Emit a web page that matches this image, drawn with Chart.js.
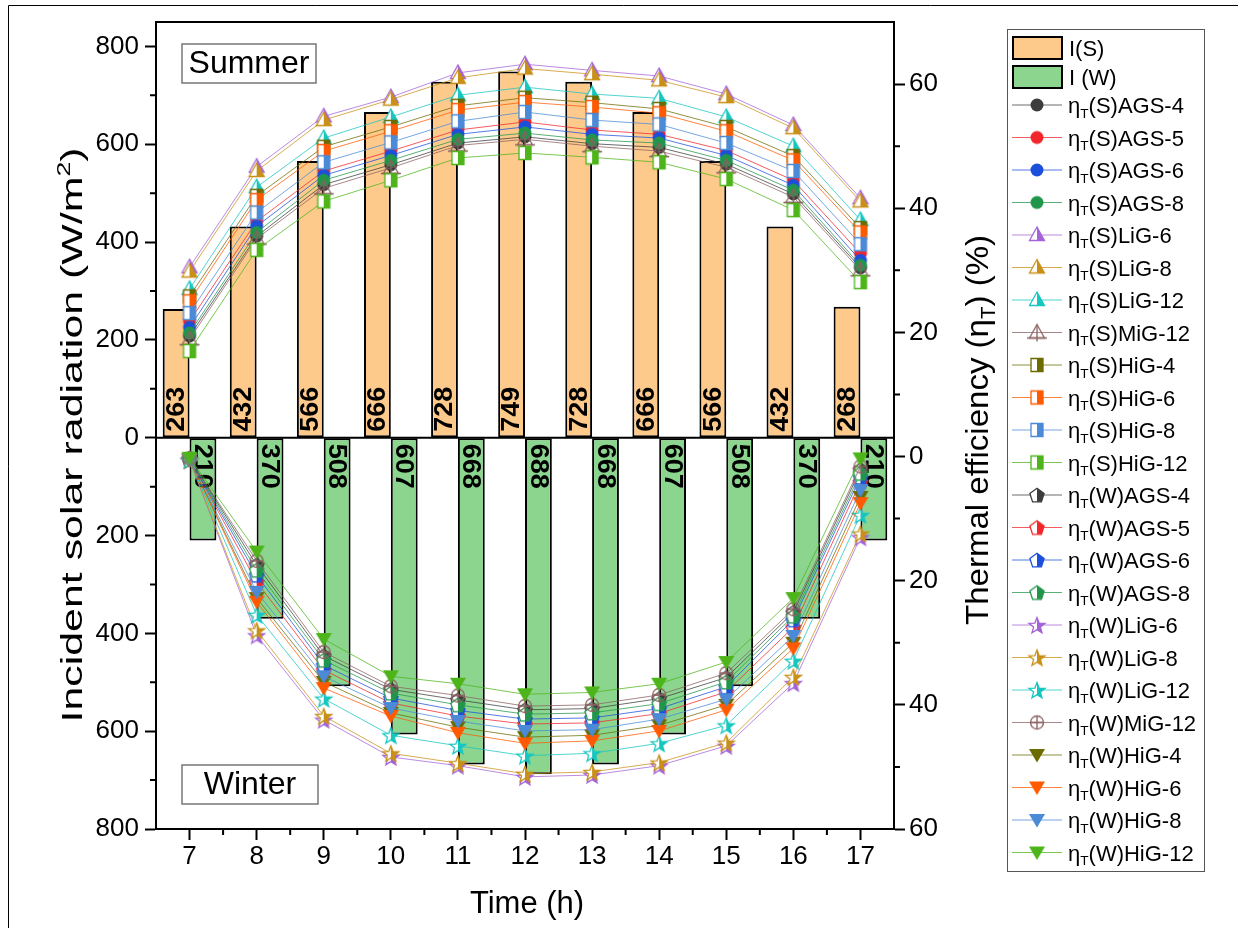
<!DOCTYPE html>
<html>
<head>
<meta charset="utf-8">
<script src="https://cdn.jsdelivr.net/npm/chart.js@4.4.1/dist/chart.umd.min.js"></script>
<style>
  html, body { margin: 0; padding: 0; background: #fff; }
  canvas { display: block; }
</style>
</head>
<body>
<canvas id="myChart" width="1238" height="928"></canvas>
<script>
// ---- data ----
const hours = ['7', '8', '9', '10', '11', '12', '13', '14', '15', '16', '17'];
const irrSummer = [263, 432, 566, 666, 728, 749, 728, 666, 566, 432, 268];
const irrWinter = [210, 370, 508, 607, 668, 688, 668, 607, 508, 370, 210];

const glazing = ['AGS-4', 'AGS-5', 'AGS-6', 'AGS-8', 'LiG-6', 'LiG-8', 'LiG-12', 'MiG-12', 'HiG-4', 'HiG-6', 'HiG-8', 'HiG-12'];

// thermal efficiency (%), summer, same order as glazing
const effSummer = [
  [19.4, 35.5, 43.8, 47.0, 50.5, 51.5, 50.4, 49.8, 47.1, 42.3, 30.4],
  [21.8, 37.9, 46.0, 49.2, 52.6, 53.9, 52.6, 51.9, 49.3, 44.5, 32.7],
  [20.8, 37.1, 45.3, 48.5, 51.9, 53.1, 51.9, 51.3, 48.5, 43.7, 31.6],
  [19.9, 36.1, 44.5, 47.7, 51.1, 52.1, 51.0, 50.5, 47.7, 42.9, 30.8],
  [30.5, 46.7, 54.8, 57.9, 61.8, 63.2, 62.2, 61.3, 58.4, 53.4, 41.6],
  [29.8, 46.0, 54.2, 57.5, 61.0, 62.5, 61.6, 60.6, 57.9, 52.9, 41.1],
  [27.0, 43.4, 51.3, 54.7, 58.2, 59.5, 58.4, 57.7, 54.7, 50.0, 38.1],
  [18.9, 35.1, 43.2, 46.5, 50.1, 51.1, 50.0, 49.2, 46.6, 41.8, 30.0],
  [25.8, 42.0, 49.9, 53.1, 56.5, 57.8, 57.0, 56.0, 53.1, 48.4, 36.8],
  [25.0, 41.3, 49.2, 52.4, 55.8, 57.1, 56.3, 55.3, 52.4, 47.7, 36.1],
  [23.1, 39.3, 47.4, 50.6, 54.0, 55.5, 54.2, 53.5, 50.5, 46.0, 34.2],
  [17.0, 33.3, 41.1, 44.5, 48.1, 48.9, 48.2, 47.4, 44.7, 39.7, 28.1]
];

// thermal efficiency (%), winter (plotted downwards)
const effWinter = [
  [0.3, 17.5, 32.1, 37.5, 39.2, 40.8, 40.6, 39.0, 35.6, 25.1, 2.1],
  [0.4, 20.2, 34.4, 39.7, 41.8, 43.1, 42.9, 41.4, 37.9, 27.5, 4.1],
  [0.4, 19.1, 33.6, 38.9, 40.9, 42.3, 42.1, 40.6, 37.1, 26.3, 3.3],
  [0.35, 18.3, 32.8, 38.1, 40.0, 41.5, 41.3, 39.8, 36.3, 25.7, 2.7],
  [0.6, 28.8, 42.4, 48.4, 49.8, 51.6, 51.3, 49.8, 46.6, 36.5, 13.0],
  [0.6, 28.0, 41.8, 47.8, 49.4, 51.1, 50.8, 49.3, 46.1, 35.5, 12.4],
  [0.55, 25.5, 39.0, 44.9, 46.6, 48.2, 47.8, 46.2, 43.3, 32.9, 9.4],
  [0.3, 16.8, 31.5, 37.0, 38.5, 40.2, 40.0, 38.4, 34.9, 24.6, 1.6],
  [0.5, 22.8, 36.3, 41.3, 43.6, 45.2, 44.9, 43.3, 40.0, 30.0, 6.5],
  [0.5, 23.4, 37.3, 41.8, 44.5, 46.2, 45.8, 44.2, 40.8, 30.9, 7.5],
  [0.45, 21.8, 35.4, 40.5, 42.6, 44.2, 44.0, 42.3, 39.1, 28.9, 5.4],
  [0.2, 15.3, 29.4, 35.4, 36.6, 38.3, 38.0, 36.6, 33.1, 22.8, 0.3]
];

// ---- styles ----
const FAM = "'Liberation Sans', Arial, sans-serif";
const colors = ['#3c3c3c', '#f0262b', '#1c4fdc', '#21964b', '#a463d6', '#c99016', '#16c6c0', '#8b6060', '#6b6b00', '#ff5a00', '#4a8ad6', '#4db51a'];
const marksS = ['circle', 'circle', 'circle', 'circle', 'triHalf', 'triHalf', 'triHalf', 'triCross', 'sqHalf', 'sqHalf', 'sqHalf', 'sqHalf'];
const marksW = ['pentHalf', 'pentHalf', 'pentHalf', 'pentHalf', 'starHalf', 'starHalf', 'starHalf', 'circCross', 'triDown', 'triDown', 'triDown', 'triDown'];

Chart.defaults.font.family = FAM;
Chart.defaults.color = '#000';

function shapePath(g, kind) {
  g.beginPath();
  if (kind === 'circle' || kind === 'circCross') {
    g.arc(0, 0, 6.5, 0, Math.PI * 2);
  } else if (kind === 'triHalf' || kind === 'triCross') {
    g.moveTo(0, -8); g.lineTo(7.5, 5.5); g.lineTo(-7.5, 5.5); g.closePath();
  } else if (kind === 'sqHalf') {
    g.rect(-6, -6.5, 12, 13);
  } else if (kind === 'pentHalf') {
    for (let k = 0; k < 5; k++) {
      const a = -Math.PI / 2 + k * 2 * Math.PI / 5;
      const px = 7.5 * Math.cos(a), py = 7.5 * Math.sin(a) + 0.8;
      k ? g.lineTo(px, py) : g.moveTo(px, py);
    }
    g.closePath();
  } else if (kind === 'starHalf') {
    for (let k = 0; k < 10; k++) {
      const r = k % 2 ? 3.6 : 8.5;
      const a = -Math.PI / 2 + k * Math.PI / 5;
      const px = r * Math.cos(a), py = r * Math.sin(a) + 1;
      k ? g.lineTo(px, py) : g.moveTo(px, py);
    }
    g.closePath();
  } else if (kind === 'triDown') {
    g.moveTo(-8, -6); g.lineTo(8, -6); g.lineTo(0, 7.5); g.closePath();
  }
}

function makeMarker(kind, color) {
  const c = document.createElement('canvas');
  c.width = 22; c.height = 22;
  const g = c.getContext('2d');
  g.translate(11, 11);
  g.lineWidth = 1.3;
  g.strokeStyle = color;
  g.fillStyle = color;
  shapePath(g, kind);
  if (kind === 'circle' || kind === 'triDown') {
    g.fill();
  } else if (kind.endsWith('Half')) {
    g.fillStyle = '#fff';
    g.fill();
    g.save();
    g.beginPath(); g.rect(0, -11, 11, 22); g.clip();
    shapePath(g, kind); g.fillStyle = color; g.fill();
    g.restore();
    shapePath(g, kind); g.stroke();
  } else if (kind === 'triCross') {
    g.stroke();
    g.beginPath(); g.moveTo(0, -8); g.lineTo(0, 9); g.moveTo(-10, 5.5); g.lineTo(10, 5.5); g.stroke();
  } else if (kind === 'circCross') {
    g.stroke();
    g.beginPath(); g.moveTo(0, -6.5); g.lineTo(0, 6.5); g.moveTo(-6.5, 0); g.lineTo(6.5, 0); g.stroke();
  }
  return c;
}

function fade(hex, a) {
  const n = parseInt(hex.slice(1), 16);
  return `rgba(${n >> 16},${(n >> 8) & 255},${n & 255},${a})`;
}

// ---- datasets ----
const datasets = [
  { type: 'bar', label: 'I(S)', data: irrSummer, yAxisID: 'y', backgroundColor: '#fdca8c', borderColor: '#000', borderWidth: 2, borderSkipped: false, categoryPercentage: 0.8, barPercentage: 1, order: 100 },
  { type: 'bar', label: 'I (W)', data: irrWinter.map(v => -v), yAxisID: 'y', backgroundColor: '#8bd58f', borderColor: '#000', borderWidth: 2, borderSkipped: false, categoryPercentage: 0.8, barPercentage: 1, order: 100 }
];
const legendItems = [];
glazing.forEach((g, i) => {
  const mk = makeMarker(marksS[i], colors[i]);
  legendItems.push({ text: '(S)' + g, color: colors[i], marker: mk });
  datasets.push({ type: 'line', label: 'ηT(S)' + g, data: effSummer[i], yAxisID: 'y2', borderColor: fade(colors[i], 0.75), borderWidth: 1, tension: 0, pointStyle: mk, pointRadius: 7, order: -i });
});
glazing.forEach((g, i) => {
  const mk = makeMarker(marksW[i], colors[i]);
  legendItems.push({ text: '(W)' + g, color: colors[i], marker: mk });
  datasets.push({ type: 'line', label: 'ηT(W)' + g, data: effWinter[i].map(v => -v), yAxisID: 'y2', borderColor: fade(colors[i], 0.75), borderWidth: 1, tension: 0, pointStyle: mk, pointRadius: 7, order: -(12 + i) });
});

// ---- text helpers ----
function partsWidth(c, parts, size) {
  let w = 0;
  parts.forEach(p => {
    c.font = `${p.sub || p.sup ? size * 0.62 : size}px ${FAM}`;
    w += c.measureText(p.t).width;
  });
  return w;
}
function drawParts(c, parts, size, x0, y0) {
  let x = x0;
  parts.forEach(p => {
    c.font = `${p.sub || p.sup ? size * 0.62 : size}px ${FAM}`;
    const dy = p.sub ? size * 0.22 : p.sup ? -size * 0.38 : 0;
    c.fillText(p.t, x, y0 + dy);
    x += c.measureText(p.t).width;
  });
}
function drawTitle(c, parts, size, cx, cy, rot, len) {
  c.save();
  c.translate(cx, cy);
  c.rotate(rot);
  c.textAlign = 'left';
  c.textBaseline = 'alphabetic';
  const w = partsWidth(c, parts, size);
  if (len) c.scale(len / w, 1);
  drawParts(c, parts, size, -w / 2, size * 0.35);
  c.restore();
}

// ---- plugins ----
const barLabels = {
  id: 'barLabels',
  afterDatasetDraw(chart, args) {
    if (args.index !== 0) return;
    const { ctx, chartArea: a, scales: { y } } = chart;
    const zero = y.getPixelForValue(0);
    ctx.save();
    ctx.strokeStyle = '#000';
    ctx.lineWidth = 2;
    ctx.beginPath(); ctx.moveTo(a.left, zero); ctx.lineTo(a.right, zero); ctx.stroke();
    ctx.fillStyle = '#000';
    ctx.font = `bold 25px ${FAM}`;
    ctx.textAlign = 'left';
    ctx.textBaseline = 'middle';
    chart.getDatasetMeta(0).data.forEach((el, i) => {
      ctx.save(); ctx.translate(el.x + 1, zero - 6); ctx.rotate(-Math.PI / 2);
      ctx.scale(1.08, 1);
      ctx.fillText(irrSummer[i], 0, 0); ctx.restore();
    });
    chart.getDatasetMeta(1).data.forEach((el, i) => {
      ctx.save(); ctx.translate(el.x - 1, zero + 6); ctx.rotate(Math.PI / 2);
      ctx.scale(1.08, 1);
      ctx.fillText(irrWinter[i], 0, 0); ctx.restore();
    });
    ctx.restore();
  }
};

const decorations = {
  id: 'decorations',
  afterDraw(chart) {
    const { ctx, chartArea: a, scales: { x, y, y2 } } = chart;
    ctx.save();
    ctx.strokeStyle = '#000';
    ctx.lineWidth = 2;
    ctx.beginPath();
    // top frame
    ctx.moveTo(a.left - 1, a.top); ctx.lineTo(a.right + 1, a.top);
    // minor ticks
    for (let v = -700; v <= 700; v += 200) {
      const p = y.getPixelForValue(v);
      ctx.moveTo(a.left - 6, p); ctx.lineTo(a.left, p);
    }
    for (let v = -50; v <= 50; v += 20) {
      const p = y2.getPixelForValue(v);
      ctx.moveTo(a.right, p); ctx.lineTo(a.right + 6, p);
    }
    for (let i = 0; i < hours.length - 1; i++) {
      const p = (x.getPixelForValue(i) + x.getPixelForValue(i + 1)) / 2;
      ctx.moveTo(p, a.bottom); ctx.lineTo(p, a.bottom + 6);
    }
    ctx.stroke();

    // outer figure frame
    ctx.lineWidth = 1;
    ctx.beginPath();
    ctx.moveTo(8.5, 928); ctx.lineTo(8.5, 5.5); ctx.lineTo(1238, 5.5);
    ctx.stroke();

    // season boxes
    ctx.strokeStyle = '#777';
    ctx.lineWidth = 1.5;
    ctx.strokeRect(182, 44, 134, 39);
    ctx.strokeRect(182, 765, 136, 39);
    ctx.fillStyle = '#000';
    ctx.font = `32px ${FAM}`;
    ctx.textAlign = 'center';
    ctx.textBaseline = 'middle';
    ctx.fillText('Summer', 249, 64);
    ctx.fillText('Winter', 250, 785);

    // axis titles
    drawTitle(ctx, [{ t: 'Incident solar radiation (W/m' }, { t: '2', sup: true }, { t: ')' }], 30, 71, 435, -Math.PI / 2, 575);
    drawTitle(ctx, [{ t: 'Thermal efficiency (η' }, { t: 'T', sub: true }, { t: ') (%)' }], 32, 977, 430, -Math.PI / 2, 390);
    drawTitle(ctx, [{ t: 'Time (h)' }], 31, 527, 902, 0, null);

    // legend
    ctx.strokeStyle = '#555';
    ctx.lineWidth = 1;
    ctx.strokeRect(1007.5, 29.5, 197, 842);
    ctx.textAlign = 'left';
    ctx.textBaseline = 'alphabetic';
    const bars = [['I(S)', '#fdca8c', 48], ['I (W)', '#8bd58f', 77]];
    bars.forEach(([t, col, cy]) => {
      ctx.fillStyle = col;
      ctx.fillRect(1013, cy - 11, 49, 22);
      ctx.strokeStyle = '#000';
      ctx.lineWidth = 2;
      ctx.strokeRect(1013, cy - 11, 49, 22);
      ctx.fillStyle = '#000';
      drawParts(ctx, [{ t: t }], 22, 1069, cy + 8);
    });
    legendItems.forEach((it, i) => {
      const cy = 105 + 32.5 * i;
      ctx.strokeStyle = fade(it.color, 0.75);
      ctx.lineWidth = 1;
      ctx.beginPath(); ctx.moveTo(1012, cy); ctx.lineTo(1062, cy); ctx.stroke();
      ctx.drawImage(it.marker, 1037 - 11, cy - 11);
      ctx.fillStyle = '#000';
      drawParts(ctx, [{ t: 'η' }, { t: 'T', sub: true }, { t: it.text }], 22, 1068, cy + 8);
    });
    ctx.restore();
  }
};

// ---- config ----
const tickFont = { size: 26, family: FAM };
const config = {
  type: 'bar',
  data: { labels: hours, datasets },
  options: {
    responsive: false,
    animation: false,
    events: [],
    devicePixelRatio: 1,
    layout: { padding: { top: 22, left: 0, right: 0, bottom: 0 } },
    plugins: { legend: { display: false }, tooltip: { enabled: false } },
    scales: {
      x: {
        offset: true,
        grid: { offset: false, drawOnChartArea: false, drawTicks: true, tickLength: 11, tickWidth: 2, tickColor: '#000' },
        border: { display: true, color: '#000', width: 2 },
        ticks: { font: tickFont, color: '#000', padding: 1, maxRotation: 0, autoSkip: false },
        afterFit: s => { s.height = 99; }
      },
      y: {
        position: 'left',
        min: -800,
        max: 850,
        afterBuildTicks: s => {
          const t = [];
          for (let v = -800; v <= 800; v += 200) t.push({ value: v });
          s.ticks = t;
        },
        grid: { drawOnChartArea: false, drawTicks: true, tickLength: 11, tickWidth: 2, tickColor: '#000' },
        border: { display: true, color: '#000', width: 2 },
        ticks: { font: tickFont, color: '#000', padding: 6, callback: v => Math.abs(v) },
        afterFit: s => { s.width = 156; }
      },
      y2: {
        position: 'right',
        min: -60,
        max: 70,
        afterBuildTicks: s => {
          const t = [];
          for (let v = -60; v <= 60; v += 20) t.push({ value: v });
          s.ticks = t;
        },
        grid: { drawOnChartArea: false, drawTicks: true, tickLength: 11, tickWidth: 2, tickColor: '#000' },
        border: { display: true, color: '#000', width: 2 },
        ticks: { font: tickFont, color: '#000', padding: 4, callback: v => Math.abs(v) },
        afterFit: s => { s.width = 1238 - 894; }
      }
    }
  },
  plugins: [barLabels, decorations]
};

const myChart = new Chart(document.getElementById('myChart'), config);
</script>
</body>
</html>
